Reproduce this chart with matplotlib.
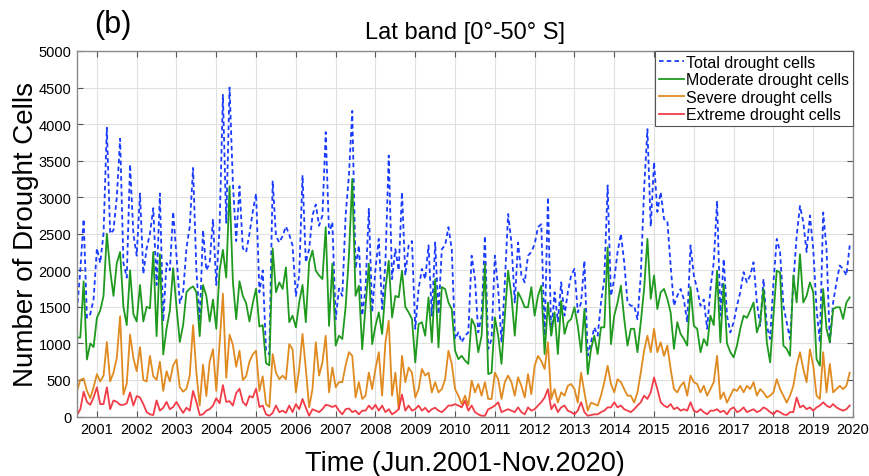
import numpy as np
import matplotlib
matplotlib.use("Agg")
import matplotlib.pyplot as plt

plt.rcParams['font.family'] = ['Liberation Sans', 'DejaVu Sans']

# Monthly drought cell counts, Jun.2001 - Nov.2020 (234 months)
total = [
    1450, 2000, 2700, 1350, 1400, 1600, 2300, 2100, 2500, 3950, 2500, 2550,
    3000, 3800, 2100, 1900, 3450, 2500, 2200, 3050, 1950, 2300, 2500, 2850,
    1800, 3050, 1300, 2100, 2000, 2800, 2200, 1550, 1700, 2300, 2600, 3400,
    2000, 1300, 2550, 2000, 2100, 2700, 1800, 2600, 4400, 2650, 4500, 3200,
    2400, 3150, 2300, 2250, 2500, 2800, 3050, 1700, 2000, 900, 850, 3225,
    2470, 2380, 2470, 2600, 2490, 2340, 1650, 1930, 3300, 2110, 2290, 2750,
    2900, 2610, 2750, 3890, 2500, 2660, 1330, 1750, 1650, 2750, 3300, 4180,
    2020, 2340, 1380, 1750, 2840, 1425, 2020, 2430, 1470, 2110, 3570, 1880,
    2290, 2000, 3070, 1930, 2340, 2400, 1200, 1745, 2020, 1880, 2340, 1380,
    2380, 1400, 2290, 2340, 2590, 2290, 1060, 1150, 1015, 1105, 1150, 2200,
    1880, 1150, 1380, 2470, 925, 1060, 2200, 1745, 1015, 1835, 2770, 2380,
    1560, 2380, 1930, 1835, 2200, 2250, 2360, 2590, 2630, 1105, 3000, 1105,
    1700, 1300, 1835, 1380, 1700, 1930, 2020, 1425, 1560, 2130, 830, 1015,
    1220, 1105, 1560, 1880, 3160, 1650, 1880, 2250, 2500, 2110, 1560, 1515,
    1515, 1330, 1930, 3110, 3930, 2600, 3480, 2800, 3070, 2700, 2680, 2065,
    1515, 1650, 1745, 1600, 1290, 2340, 1930, 1745, 1515, 1600, 1200, 1745,
    2110, 2950, 1380, 2155, 1380, 1150, 1290, 1515, 1700, 1975, 1835, 1930,
    2110, 1560, 1240, 1880, 1240, 1060, 1835, 2430, 2250, 1515, 1290, 1060,
    1835, 2470, 2880, 2660, 2250, 2750, 2290, 1470, 1015, 2790, 2300, 1015,
    1560, 1835, 2065, 2020, 1930, 2340,
]

moderate = [
    1080, 1080, 1850, 780, 1000, 950, 1350, 1450, 1650, 2500, 2000, 1650,
    2100, 2250, 1500, 1250, 2000, 1400, 1300, 1800, 1300, 1500, 1480, 2250,
    1100, 2220, 850, 1200, 1450, 2030, 1500, 1020, 1250, 1700, 1750, 1780,
    1700, 1100, 1800, 1650, 1300, 1600, 1200, 2000, 2280, 1900, 3150, 1850,
    1330, 1850, 1650, 1550, 1300, 1550, 1750, 1230, 1250, 730, 700, 2300,
    1700, 1835, 1745, 2040, 1290, 1380, 1220, 1560, 1800, 1290, 2110, 2270,
    1995, 1930, 1880, 2590, 1240, 2090, 970, 1105, 1060, 1500, 2200, 3250,
    1650, 1790, 920, 1500, 2090, 990, 1240, 1425, 1130, 1745, 2130, 1355,
    1650, 1630, 1995, 1500, 1425, 1335, 740, 1265, 1290, 1105, 1630, 1015,
    1880, 945, 1770, 1745, 1560, 1470, 900, 785, 830, 765, 720, 1335,
    1240, 880, 1105, 2085, 580, 600, 1355, 1105, 720, 1380, 1995, 1650,
    1105, 1700, 1610, 1495, 1495, 1770, 1380, 1650, 1790, 855, 1560, 1105,
    1425, 855, 1585, 1130, 1290, 1335, 1495, 1240, 880, 1470, 580, 925,
    1105, 855, 1220, 1220, 2315, 990, 1380, 1560, 1790, 1335, 970, 1200,
    1200, 880, 1290, 1745, 2430, 1610, 1930, 1470, 1700, 1745, 1610, 1425,
    925, 1290, 1130, 1060, 970, 1770, 1240, 1200, 880, 1060, 970, 1380,
    1250, 1995, 1015, 1815, 1000, 880, 810, 970, 1200, 1380, 1350, 1450,
    1560, 1150, 1290, 1745, 1015, 740, 1380, 1995, 1970, 970, 925, 830,
    1930, 1560, 2220, 1560, 1650, 1835, 1700, 785, 695, 1745, 1200, 1015,
    1470, 1495, 1495, 1335, 1560, 1630,
]

severe = [
    350, 500, 520, 350, 250, 400, 580, 480, 560, 1020, 480, 600,
    800, 1370, 300, 450, 1120, 800, 620, 950, 500, 480, 830, 550,
    500, 750, 350, 620, 480, 700, 780, 400, 340, 380, 560, 1250,
    600, 150, 710, 280, 750, 920, 350, 1000, 1680, 530, 1120, 980,
    680, 900, 500, 550, 750, 850, 900, 350, 550, 170, 130, 855,
    600, 510, 560, 510, 990, 920, 330, 650, 1130, 650, 125, 375,
    1015, 560, 740, 1105, 330, 670, 400, 470, 470, 700, 880, 830,
    260, 470, 240, 285, 600, 375, 650, 880, 285, 1015, 1310, 285,
    600, 100, 830, 470, 670, 600, 260, 375, 650, 560, 600, 330,
    470, 330, 375, 510, 900, 720, 375, 285, 170, 285, 150, 490,
    330, 445, 285, 470, 240, 240, 600, 510, 240, 470, 560, 470,
    285, 535, 420, 260, 580, 305, 695, 830, 760, 650, 1015, 240,
    375, 190, 330, 285, 420, 445, 375, 190, 600, 330, 80, 190,
    170, 150, 285, 470, 695, 445, 330, 510, 470, 375, 285, 285,
    190, 330, 600, 900, 1105, 880, 1200, 880, 1015, 830, 970, 650,
    375, 330, 420, 470, 285, 560, 470, 445, 330, 420, 285, 375,
    470, 830, 240, 330, 190, 285, 375, 350, 420, 330, 420, 375,
    470, 285, 375, 330, 260, 285, 330, 510, 375, 285, 190, 285,
    420, 695, 880, 650, 470, 920, 695, 285, 240, 880, 330, 720,
    330, 375, 420, 375, 420, 600,
]

extreme = [
    20, 100, 340, 200, 160, 260, 400, 170, 170, 400, 100, 220,
    200, 160, 160, 180, 330, 150, 280, 260, 170, 60, 30, 20,
    220, 80, 120, 200, 100, 130, 200, 120, 50, 120, 80, 350,
    200, 20, 30, 80, 100, 150, 250, 180, 430, 200, 210, 150,
    320, 380, 200, 150, 280, 260, 380, 130, 150, 30, 10, 50,
    150, 60, 80, 50, 150, 60, 170, 100, 240, 120, 10, 100,
    80, 60, 100, 160, 150, 130, 150, 80, 30, 100, 110, 60,
    80, 30, 80, 80, 150, 100, 160, 80, 150, 60, 100, 30,
    60, 100, 300, 80, 150, 80, 100, 150, 80, 120, 60, 100,
    120, 80, 60, 100, 150, 150, 170, 150, 125, 215, 80, 150,
    60, 30, 10, 10, 100, 120, 150, 195, 60, 80, 100, 80,
    60, 125, 60, 30, 125, 80, 100, 150, 195, 260, 375, 100,
    170, 60, 125, 150, 80, 60, 30, 80, 195, 60, 10, 20,
    30, 30, 60, 80, 125, 125, 195, 125, 150, 100, 80, 60,
    100, 150, 195, 285, 240, 330, 535, 375, 195, 150, 125, 170,
    100, 125, 80, 100, 80, 195, 80, 60, 100, 60, 30, 80,
    80, 100, 60, 80, 30, 100, 125, 60, 80, 125, 60, 80,
    100, 60, 80, 125, 100, 60, 30, 80, 60, 30, 20, 60,
    60, 260, 125, 150, 100, 125, 80, 125, 150, 195, 150, 125,
    170, 125, 100, 80, 100, 150,
]

year_ticks = list(range(2001, 2021))
y_ticks = list(range(0, 5001, 500))

x = 2000.5 + np.arange(len(total)) / 12.0

fig = plt.figure(figsize=(8.7, 4.77), dpi=100)
ax = fig.add_axes([0.0885, 0.1247, 0.892, 0.7663])

ax.plot(x, total, color='#1a3cff', lw=1.3, ls=(0, (2.5, 1.8)), label='Total drought cells')
ax.plot(x, moderate, color='#1f9a1f', lw=1.3, label='Moderate drought cells')
ax.plot(x, severe, color='#e08a20', lw=1.3, label='Severe drought cells')
ax.plot(x, extreme, color='#f23c48', lw=1.3, label='Extreme drought cells')

ax.set_xlim(2000.5, 2000.5 + (len(total) - 1) / 12.0)
ax.set_ylim(0, 5000)
ax.set_xticks(year_ticks)
ax.set_xticklabels([str(t) for t in year_ticks], fontsize=10.5)
ax.set_yticks(y_ticks)
ax.set_yticklabels([str(t) for t in y_ticks], fontsize=10.5)
ax.grid(True, color='#e0e0e0', lw=0.8)
ax.set_axisbelow(True)
ax.tick_params(direction='in', top=True, right=True, length=4, color='#555555', pad=4)
for s in ax.spines.values():
    s.set_color('#8a8a8a')
    s.set_linewidth(1.0)

ax.set_xlabel('Time (Jun.2001-Nov.2020)', fontsize=19.5, labelpad=10)
ax.set_ylabel('Number of Drought Cells', fontsize=20, labelpad=0)
ax.set_title('Lat band [0°-50° S]', fontsize=17, pad=9)
fig.text(0.108, 0.947, '(b)', fontsize=22, ha='left', va='center')

leg = ax.legend(loc='upper right', fontsize=11.5, handlelength=1.6, handletextpad=0.1,
                borderaxespad=0, labelspacing=0.15, borderpad=0.25, fancybox=False,
                framealpha=1)
leg.get_frame().set_edgecolor('#555555')
leg.get_frame().set_linewidth(0.8)

fig.savefig('out.png', dpi=100)
